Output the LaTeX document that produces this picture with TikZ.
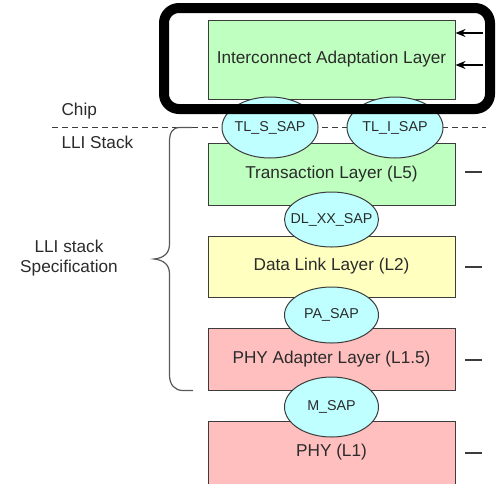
\documentclass[tikz,border=0pt]{standalone}
\usepackage{fontspec}
\setmainfont{Liberation Sans}
\usetikzlibrary{arrows.meta,shapes.geometric}
\definecolor{txt}{HTML}{2B2B2B}
\definecolor{edge}{HTML}{3C3C3C}
\definecolor{layergreen}{HTML}{BFFFBF}
\definecolor{layeryellow}{HTML}{FFFFC0}
\definecolor{layerpink}{HTML}{FFBFBF}
\definecolor{sapcyan}{HTML}{BFFFFF}
\tikzset{
  layer/.style={draw=edge, line width=1pt, minimum width=247pt, inner sep=0pt,
    text=txt, font=\fontsize{17.2}{19}\selectfont},
  saptext/.style={text=txt, font=\fontsize{14.3}{16}\selectfont, inner sep=0pt},
  sap/.style={ellipse, draw=edge, line width=1pt, fill=sapcyan, inner sep=0pt,
    minimum width=94pt, minimum height=58pt, label={[saptext]center:#1}},
  lbl/.style={text=txt, font=\fontsize{17.2}{20}\selectfont, align=center},
  tick/.style={draw=edge, line width=1.2pt},
}
\begin{document}
\begin{tikzpicture}[x=1pt,y=-1pt]
\useasboundingbox[fill=white] (0,0) rectangle (500,483);

% protocol layers
\node[layer, fill=layergreen, minimum height=79pt] (ial) at (331.5,59.5) {Interconnect Adaptation Layer};
\node[layer, fill=layergreen, minimum height=62pt] (tl) at (331.5,174) {Transaction Layer (L5)};
\node[layer, fill=layeryellow, minimum height=61pt] (dl) at (331.5,266.5) {Data Link Layer (L2)};
\node[layer, fill=layerpink, minimum height=62pt] (pa) at (331.5,359) {PHY Adapter Layer (L1.5)};
\node[layer, fill=layerpink, minimum height=80pt, anchor=north] (phy) at (331.5,421) {};
\node[text=txt, font=\fontsize{17.2}{19}\selectfont] (phyt) at (331.5,452) {PHY (L1)};

% chip / stack boundary
\coordinate (dashL) at (52,127.5);
\coordinate (dashR) at (486,127.5);
\draw[edge, line width=1pt, dash pattern=on 6pt off 4pt] (dashL) -- (dashR);

% service access points
\node[sap=TL\_S\_SAP, minimum height=61pt, minimum width=96pt] (tls) at (270,127.5) {};
\node[sap=TL\_I\_SAP, minimum height=61pt, minimum width=96pt] (tli) at (395,127.5) {};
\node[sap=DL\_XX\_SAP, minimum height=55pt] (dlx) at (331.5,219.5) {};
\node[sap=PA\_SAP, minimum height=56pt] (pas) at (331.5,315) {};
\node[sap=M\_SAP, minimum height=60pt] (msap) at (331.5,407) {};

% side labels
\node[lbl, anchor=west] (chip) at (58,111) {Chip};
\node[lbl, anchor=west] (stack) at (58,142) {LLI Stack};
\node[lbl] (spec) at (69,258) {LLI stack\\Specification};

% brace around the stack specification
\coordinate (brTop) at (192,127.5);
\coordinate (brTip) at (154,259);
\coordinate (brBot) at (193,390.5);
\draw[edge!85, line width=1.2pt]
  (brTop) -- (180,127.5) .. controls (172,127.5) and (169.5,133) .. (169.5,142)
  -- (169.5,244) .. controls (169.5,253) and (164,258) .. (brTip)
  .. controls (164,260) and (169.5,265) .. (169.5,274)
  -- (169.5,375) .. controls (169.5,385) and (175,390.5) .. (183,390.5) -- (brBot);

% ticks to the right of each layer
\foreach \n/\y in {tl/172, dl/267, pa/360, phy/453} {
  \coordinate (\n-tick) at (465,\y);
  \draw[tick] (\n-tick) -- ++(17,0);
}

% inputs into the adaptation layer
\coordinate (inA) at (483,33);
\coordinate (inB) at (483,65);
\draw[-{Stealth[length=10pt,width=8pt]}, line width=1.5pt] (inA) -- (inA -| ial.east);
\draw[-{Stealth[length=10pt,width=8pt]}, line width=1.5pt] (inB) -- (inB -| ial.east);

% highlight frame
\draw[line width=10pt, rounded corners=15pt] (164,8) rectangle (490,109);
\end{tikzpicture}
\end{document}
